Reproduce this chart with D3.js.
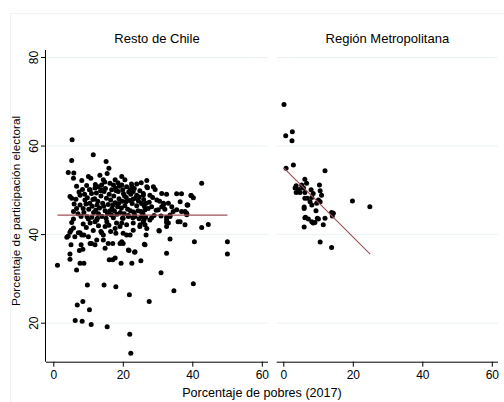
<!DOCTYPE html>
<html>
<head>
<meta charset="utf-8">
<script src="https://cdn.jsdelivr.net/npm/d3@7"></script>
<style>
  html, body { margin: 0; padding: 0; background: #fff; }
  svg text { font-family: "Liberation Sans", Arial, sans-serif; fill: #000; }
</style>
</head>
<body>
<div id="chart"></div>
<script>
// ── Data ─────────────────────────────────────
const panels = ["Resto de Chile", "Región Metropolitana"];
const xTicks = [0, 20, 40, 60];
const yTicks = [20, 40, 60, 80];

// [pobres %, participación %]
const resto = [
  [5.4,61.3],[5.3,56.6],[11.5,57.9],[15.2,56.4],[16.0,54.9],[4.3,53.9],[5.9,53.8],[5.8,52.6],
  [8.2,52.1],[6.7,50.8],[10.1,53.0],[10.8,52.6],[13.4,53.3],[15.5,53.7],[14.8,51.8],[19.7,53.0],
  [20.6,52.3],[22.6,50.7],[24.0,51.3],[25.3,51.6],[26.9,52.1],[26.9,50.7],[28.8,50.7],[29.3,50.1],
  [31.2,49.2],[32.6,49.0],[35.5,49.1],[36.9,49.1],[39.7,48.7],[40.3,48.2],[42.7,51.5],[36.5,47.3],
  [38.5,46.6],[37.9,45.1],[35.5,45.5],[33.1,47.0],[31.7,46.6],[29.8,47.7],[32.1,45.6],[28.3,46.2],
  [26.7,47.0],[26.4,45.5],[25.2,45.1],[27.3,45.8],[34.1,46.2],[34.5,45.1],[33.6,44.0],[36.9,45.1],
  [38.4,44.4],[27.1,50.5],[23.0,49.6],[4.8,48.5],[5.3,48.1],[7.7,48.8],[6.7,45.8],[5.8,45.1],
  [9.1,47.7],[8.6,45.8],[7.7,46.6],[11.0,49.2],[10.4,50.0],[12.9,50.7],[13.9,51.1],[13.9,50.0],
  [16.3,51.5],[17.3,51.1],[19.7,51.1],[16.8,50.0],[18.7,49.6],[21.1,50.7],[22.1,50.0],[24.0,48.8],
  [25.9,49.2],[25.9,48.8],[27.8,48.8],[12.0,50.4],[10.6,50.0],
  [9.0,49.0],[9.8,48.2],[10.5,47.0],[11.2,46.3],[11.9,48.0],[12.4,49.3],[12.8,47.4],[13.3,45.9],
  [13.7,48.6],[14.2,47.0],[14.6,49.6],[14.9,45.3],[15.3,48.1],[15.8,46.7],[16.1,49.0],[16.5,47.7],
  [16.9,45.8],[17.4,48.6],[17.8,47.1],[18.1,49.8],[18.5,46.2],[18.9,48.0],[19.3,44.9],[19.8,47.4],
  [20.2,49.1],[20.6,46.4],[21.0,48.3],[21.4,45.6],[21.9,47.6],[22.3,49.0],[22.7,46.9],[23.1,45.0],
  [23.6,48.1],[24.0,46.4],[24.5,47.5],[24.9,49.8],[25.4,46.9],[10.2,45.6],[11.6,44.9],[12.2,45.4],
  [13.0,44.6],[14.0,44.0],[15.6,44.6],[16.7,44.3],[17.6,45.2],[18.3,44.5],[19.6,45.9],[20.4,44.6],
  [21.6,44.2],[22.2,45.3],[23.4,44.4],[24.4,45.3],[25.8,44.6],[9.4,46.8],[8.8,44.9],[12.6,46.6],
  [14.5,46.3],[16.2,45.2],[17.1,46.6],[18.8,46.9],[20.9,47.3],[22.9,47.9],[24.7,48.4],[11.4,47.8],
  [13.6,49.8],[15.0,50.3],[17.9,50.4],[19.0,50.8],[20.5,48.6],[21.7,49.5],[23.3,50.3],[12.1,51.2],
  [14.4,52.3],[17.8,52.3],[18.6,51.6],[9.6,51.0],[8.4,50.1],[7.4,49.5],[6.5,47.9],[6.0,46.8],
  [7.1,44.6],[8.0,44.0],[9.7,43.9],[11.1,43.8],[26.2,46.3],[26.0,47.8],[27.6,47.2],[28.6,48.3],
  [29.6,45.4],[30.6,47.4],[30.2,45.5],[31.0,44.1],[29.0,44.2],[12.7,43.6],[15.2,43.6],[17.3,43.7],
  [19.9,43.6],[22.9,43.7],[24.7,43.5],[26.6,43.8],[28.3,43.7],
  [5.8,43.4],[5.3,42.6],[10.1,43.4],[12.0,42.8],[8.6,42.3],[15.4,42.8],[14.9,41.7],[18.2,42.5],
  [17.8,41.3],[19.2,41.7],[7.2,40.3],[8.2,39.8],[4.8,40.4],[4.3,39.6],[3.9,39.3],[5.1,40.9],
  [5.8,41.4],[10.1,39.4],[13.9,40.3],[14.4,38.7],[15.8,37.9],[12.0,37.6],[10.6,37.9],[14.9,36.8],
  [19.2,37.9],[11.0,37.9],[12.5,38.7],[14.4,39.8],[18.0,40.2],[16.5,40.6],[13.7,40.6],[10.6,42.5],
  [12.5,43.2],[23.0,40.9],[25.0,42.1],[26.9,41.3],[20.1,43.6],[19.7,42.5],[21.1,42.1],[23.0,42.5],
  [24.9,41.7],[21.6,44.0],[23.5,44.0],[25.4,44.0],[25.9,42.8],[26.4,42.1],[27.8,43.2],[26.1,43.2],
  [30.4,40.8],[26.7,39.8],[33.6,38.9],[26.4,37.6],[22.1,39.8],[19.7,38.3],[20.1,40.2],[21.6,36.4],
  [23.5,36.0],[32.6,35.7],[32.6,43.8],[32.6,42.6],[32.6,41.7],[33.1,42.5],[35.9,42.8],[37.9,42.1],
  [36.5,42.8],[42.7,41.5],[44.6,42.2],[40.6,38.3],[50.1,38.3],[50.1,35.5],[17.1,37.9],[20.1,37.9],
  [21.1,39.8],[25.2,34.0],[22.6,33.4],[23.4,35.9],[21.8,36.3],[19.5,33.4],[17.8,34.6],[16.1,34.2],
  [17.1,34.2],[1.2,33.0],[4.8,35.5],[4.8,34.3],[5.1,37.6],[6.7,31.9],[7.7,33.4],[8.8,33.4],
  [7.5,36.3],[8.5,36.6],[8.0,37.6],[7.7,40.3],[8.8,39.8],[6.2,39.4],[9.8,28.5],[14.6,28.5],
  [18.0,28.1],[6.9,24.0],[8.5,24.8],[10.4,22.9],[6.3,20.5],[8.3,20.3],[10.9,19.6],[15.5,19.1],
  [21.9,26.3],[27.6,24.8],[22.0,17.4],[22.3,13.1],[31.0,31.3],[34.7,27.2],[40.3,28.8],[30.5,40.7],
  [31.2,46.2],[31.7,47.0],[32.6,43.2],[38.4,44.7],[38.6,46.6],[33.6,44.3],[39.6,48.7],[38.7,46.6],
  [9.5,41.5],[11.5,40.8],[16.0,42.0],[13.0,41.9],[26.2,37.7],[20.0,50.0],[22.5,51.3]
];

const metro = [
  [0.2,69.3],[0.7,62.2],[2.6,63.1],[2.5,61.1],[0.8,54.9],[2.9,55.6],[12.0,54.3],[6.2,52.4],
  [6.7,51.5],[3.7,50.9],[3.4,50.4],[5.3,51.1],[5.8,50.4],[3.7,49.4],[4.8,49.4],[6.2,49.4],
  [8.0,50.0],[10.4,51.1],[10.6,49.8],[11.0,48.8],[6.2,48.1],[6.9,48.1],[8.2,48.3],[7.7,47.3],
  [8.2,46.6],[10.1,47.7],[10.6,47.3],[6.0,46.1],[9.4,45.3],[13.9,44.9],[14.4,44.7],[14.1,44.1],
  [19.9,47.5],[24.9,46.2],[6.2,43.7],[7.2,43.4],[8.2,42.8],[9.1,42.6],[10.1,43.4],[8.6,42.5],
  [12.0,43.6],[11.5,42.1],[6.0,41.6],[10.6,38.2],[13.9,37.0],[9.6,47.0],[8.6,49.2],[4.6,50.1],
  [6.0,45.8],[6.4,43.8],[9.8,43.6]
];

// linear fits
const fitResto = [[1.2, 44.3], [50.1, 44.3]];
const fitMetro = [[0.2, 54.9], [25.0, 35.5]];

// ── Layout ───────────────────────────────────
const W = 504, H = 402;
const GRID = "#eaf2f3";
const FIT  = "#a0525b";

const svg = d3.select("#chart").append("svg")
  .attr("width", W).attr("height", H);

// faint outer frame
svg.append("rect").attr("x", 10.5).attr("y", 13.5)
  .attr("width", 500).attr("height", 400)
  .attr("fill", "none").attr("stroke", "#eef3f4");

const y = d3.scaleLinear().domain([20, 80]).range([322.7, 57]);
const yBottom = 361.7, yTop = 50;

const panelDefs = [
  { title: panels[0], data: resto, fit: fitResto, x0: 46,    x1: 268, x: d3.scaleLinear().domain([0, 60]).range([53.3, 261.8]) },
  { title: panels[1], data: metro, fit: fitMetro, x0: 276.7, x1: 498, x: d3.scaleLinear().domain([0, 60]).range([283.3, 491.8]) }
];

panelDefs.forEach((p, i) => {
  const g = svg.append("g");

  // Grid
  g.append("g").call(
    d3.axisLeft(y).tickValues(yTicks).tickSize(-(p.x1 - p.x0)).tickFormat("")
  ).attr("transform", `translate(${p.x0},0)`)
   .call(gEl => {
     gEl.select(".domain").remove();
     gEl.selectAll(".tick line").attr("stroke", GRID).attr("stroke-width", 1);
   });

  // Title
  g.append("text")
    .attr("x", (p.x0 + p.x1) / 2).attr("y", 43)
    .attr("text-anchor", "middle").attr("font-size", "13px")
    .text(p.title);

  // Points
  g.selectAll("circle").data(p.data).join("circle")
    .attr("cx", d => p.x(d[0])).attr("cy", d => y(d[1]))
    .attr("r", 2.5).attr("fill", "#000");

  // Fit line
  g.append("path").datum(p.fit)
    .attr("d", d3.line().x(d => p.x(d[0])).y(d => y(d[1])))
    .attr("stroke", FIT).attr("stroke-width", 1.2).attr("fill", "none");

  // X axis
  const xAxis = g.append("g").attr("transform", `translate(0,${yBottom})`)
    .call(d3.axisBottom(p.x).tickValues(xTicks).tickSize(5).tickSizeOuter(0).tickPadding(4));
  xAxis.select(".domain").attr("d", `M${p.x0},0.5H${p.x1}`).attr("stroke", "#000");
  xAxis.selectAll(".tick line").attr("stroke", "#000");
  xAxis.selectAll("text").attr("font-size", "12px").attr("font-family", null).attr("fill", "#000");

  // Y axis only on the first panel
  if (i === 0) {
    const yAxis = g.append("g").attr("transform", `translate(${p.x0},0)`)
      .call(d3.axisLeft(y).tickValues(yTicks).tickSize(5).tickSizeOuter(0));
    yAxis.select(".domain").attr("d", `M-0.5,${yTop}V${yBottom}`).attr("stroke", "#000");
    yAxis.selectAll(".tick line").attr("stroke", "#000");
    yAxis.selectAll("text")
      .attr("font-size", "12px").attr("font-family", null).attr("fill", "#000")
      .attr("text-anchor", "middle").attr("x", null).attr("dy", null)
      .attr("transform", "translate(-8,0) rotate(-90)");
  }
});

// Axis titles
svg.append("text")
  .attr("x", 262).attr("y", 397)
  .attr("text-anchor", "middle").attr("font-size", "12.6px")
  .text("Porcentaje de pobres (2017)");

svg.append("text")
  .attr("transform", "translate(20,211) rotate(-90)")
  .attr("text-anchor", "middle").attr("font-size", "11.8px")
  .text("Porcentaje de participación electoral");
</script>
</body>
</html>
